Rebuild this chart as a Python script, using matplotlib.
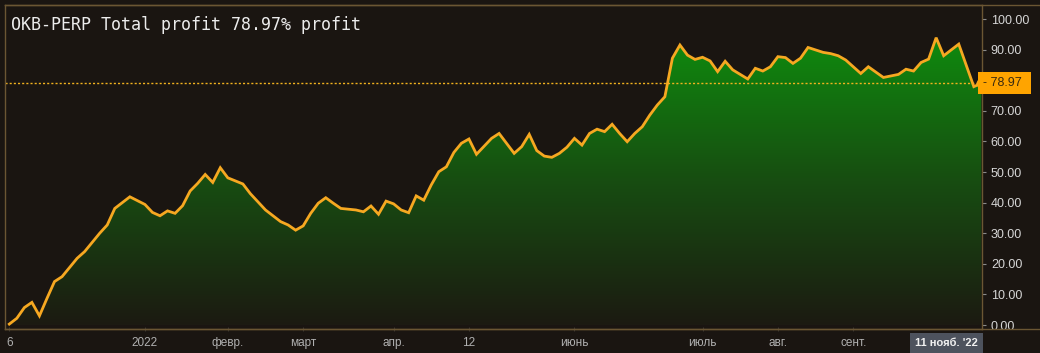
import numpy as np
import matplotlib
matplotlib.use("Agg")
from matplotlib import pyplot as plt
from matplotlib.colors import LinearSegmentedColormap
from matplotlib.lines import Line2D
import matplotlib.transforms as mtransforms

# bar index (one bar per point on the chart) and total profit, %
bars = [0, 1, 2, 3, 4, 5, 6, 7, 9, 10, 12, 13, 14, 16, 18, 19, 20, 21, 22, 23,
        24, 25, 26, 27, 28, 29, 31, 32, 34, 36, 37, 38, 39, 40, 41, 42, 43, 44,
        46, 47, 48, 49, 50, 51, 52, 53, 54, 55, 56, 57, 58, 59, 60, 61, 62, 64,
        65, 67, 68, 69, 70, 71, 72, 73, 74, 75, 76, 77, 78, 79, 80, 81, 82, 83,
        84, 85, 86, 87, 88, 89, 90, 91, 92, 93, 94, 95, 96, 98, 99, 100, 101,
        102, 103, 104, 105, 106, 108, 109, 110, 111, 113, 114, 116, 118, 119,
        120, 121, 122, 123, 124, 126, 128, 129]
profit = [0.3, 2.2, 5.7, 7.4, 3.0, 8.7, 14.2, 15.8, 21.8, 24.0, 30.0, 32.7,
          38.1, 41.9, 39.4, 36.8, 35.7, 37.3, 36.5, 39.0, 43.8, 46.3, 49.2,
          46.6, 51.4, 48.1, 46.1, 42.9, 37.6, 33.8, 32.7, 31.0, 32.4, 36.5,
          39.8, 41.6, 39.8, 38.1, 37.6, 37.0, 38.9, 36.2, 40.5, 39.6, 37.6,
          36.7, 42.2, 40.8, 45.8, 50.1, 51.7, 56.4, 59.4, 60.8, 55.8, 61.0,
          62.6, 56.1, 58.3, 62.3, 57.0, 55.2, 54.8, 56.1, 58.1, 61.0, 58.8,
          62.6, 64.0, 63.2, 65.6, 62.6, 59.9, 62.6, 64.8, 68.6, 71.9, 74.6,
          87.2, 91.5, 88.2, 86.8, 87.5, 86.3, 82.8, 86.2, 83.4, 80.4, 83.9,
          83.0, 84.4, 87.7, 87.4, 85.5, 87.2, 90.7, 89.1, 88.7, 88.0, 86.6,
          82.2, 84.4, 80.9, 81.9, 83.6, 83.0, 85.8, 86.9, 93.9, 88.0, 91.8,
          77.9, 78.97]

tick_bars = [0, 18, 29, 39, 51, 61, 75, 92, 102, 112]
tick_labels = ["6", "2022", "февр.", "март", "апр.", "12", "июнь", "июль",
               "авг.", "сент."]
last_label = "11 нояб. '22"
y_ticks = [0, 10, 20, 30, 40, 50, 60, 70, 90, 100]
title = "OKB-PERP Total profit 78.97% profit"

BG = "#1a1511"
EDGE = "#6b5633"
ORANGE = "#f6a821"


def run():
    x = np.array(bars, dtype=float)
    y = np.array(profit)
    last = y[-1]

    fig = plt.figure(figsize=(10.4, 3.53), dpi=100, facecolor=BG)
    ax = fig.add_axes([0.0048, 0.068, 0.9399, 0.918])
    ax.set_facecolor(BG)
    ax.set_xlim(-0.57, 129.15)
    ax.set_ylim(-1.3, 104.6)

    # gradient fill clipped to area under the line
    cmap = LinearSegmentedColormap.from_list("g", ["#1c1a12", "#174e11", "#0f8d0e"])
    grad = np.linspace(0, 1, 256).reshape(-1, 1)
    im = ax.imshow(grad, cmap=cmap, origin="lower", aspect="auto",
                   extent=[x[0], x[-1], 0, 96], zorder=1)
    poly = ax.fill_between(x, y, 0, color="none", lw=0)
    im.set_clip_path(poly.get_paths()[0], transform=ax.transData)

    ax.plot(x, y, color=ORANGE, lw=2.0, solid_joinstyle="miter", zorder=3)
    ax.axhline(last, color="#f2b21e", lw=1.0, ls=(0, (1.5, 1.5)), zorder=2)
    ax.plot(x[-1], last, "o", ms=6, mfc=ORANGE, mec=ORANGE, zorder=4,
            clip_on=False)

    for s in ax.spines.values():
        s.set_color(EDGE)
        s.set_linewidth(1.0)

    ax.yaxis.tick_right()
    ax.set_yticks(y_ticks)
    ax.set_yticklabels([f"{v:.2f}" for v in y_ticks])
    ax.tick_params(axis="y", colors="#8a8a8a", labelcolor="#d6d6d6",
                   length=3, width=0.8, pad=3, labelsize=9)
    ax.set_xticks(tick_bars)
    ax.set_xticklabels(tick_labels)
    ax.tick_params(axis="x", colors="#3a3530", labelcolor="#b0b0b0",
                   length=3, width=0.8, pad=4, labelsize=8.5, direction="inout")
    for lab in ax.get_xticklabels() + ax.get_yticklabels():
        lab.set_fontfamily("Liberation Sans")

    # current value label on the price scale
    trans = mtransforms.blended_transform_factory(ax.transAxes, ax.transData)
    ax.text(1.001, last, f"- {last:.2f} ", transform=trans, ha="left",
            va="center", fontsize=9, color="#3a2a10",
            family="Liberation Sans", zorder=5,
            bbox=dict(boxstyle="square,pad=0.4", fc="#ffa400", ec="none"))

    # last date label under the axis
    transx = mtransforms.blended_transform_factory(ax.transData, ax.transAxes)
    ax.text(x[-1] - 0.5, -0.027, last_label, transform=transx, ha="right",
            va="top", fontsize=8, color="#f0f0f0", family="Liberation Sans",
            fontweight="bold", zorder=5,
            bbox=dict(boxstyle="square,pad=0.45", fc="#4d525d", ec="none"))

    fig.text(0.011, 0.93, title, ha="left", va="center", fontsize=12,
             family="DejaVu Sans Mono", color="#ececec")

    # frame lines running across the price scale
    for yy in (0.986, 0.068):
        fig.add_artist(Line2D([0.0048, 1.0], [yy, yy], color=EDGE, lw=1.0,
                              transform=fig.transFigure))

    fig.savefig("out.png", dpi=100, facecolor=BG)


if __name__ == "__main__":
    run()
